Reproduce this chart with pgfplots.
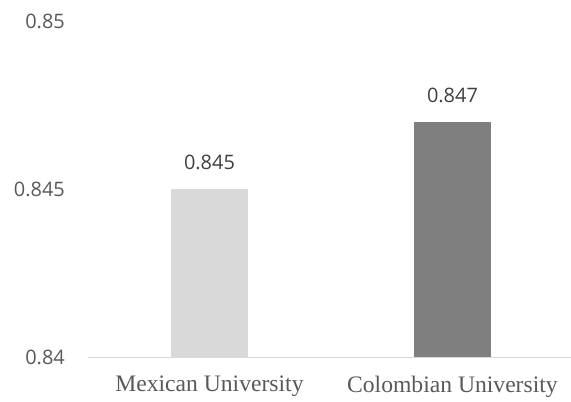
\documentclass[border=0pt]{standalone}
\usepackage{pgfplots}
\pgfplotsset{compat=1.18}
\usepackage{fontspec}
\setmainfont{Liberation Serif}
\newfontfamily\osans{Open Sans}
\definecolor{txt}{HTML}{595959}
\definecolor{lbl}{HTML}{404040}
\definecolor{barA}{HTML}{D9D9D9}
\definecolor{barB}{HTML}{7F7F7F}
\definecolor{axl}{HTML}{D9D9D9}
\begin{document}
\begin{tikzpicture}[x=1bp,y=1bp]
\path[use as bounding box] (0,0) rectangle (571,401);
\begin{axis}[
  at={(88bp,44bp)}, anchor=south west,
  scale only axis, width=483bp, height=336bp,
  xmin=-0.5, xmax=1.488,
  ymin=0.84, ymax=0.85,
  ytick={0.84,0.845,0.85},
  yticklabels={0.84,0.845,0.85},
  xtick={0,1},
  xticklabels={Mexican University,Colombian University},
  axis x line*=bottom, axis y line*=left,
  x axis line style={draw=axl, line width=1pt, -},
  y axis line style={draw=none},
  major tick length=0pt,
  tick style={draw=none},
  yticklabel style={font=\osans\fontsize{20}{24}\selectfont, text=txt, anchor=east, inner sep=0pt, xshift=-23bp},
  xticklabel style={font=\fontsize{23.7}{28}\selectfont, text=txt, anchor=north, inner sep=0pt, yshift=-19bp},
  clip=false,
  ybar, bar width=77bp,
  nodes near coords={\pgfmathprintnumber[fixed,precision=3,assume math mode=true]{\pgfplotspointmeta}},
  every node near coord/.append style={font=\osans\fontsize{20}{24}\selectfont, text=lbl, anchor=south, inner sep=0pt, yshift=19bp},
]
\addplot[fill=barA, draw=none, bar shift=0pt] coordinates {(0,0.845)};
\addplot[fill=barB, draw=none, bar shift=0pt] coordinates {(1,0.847)};
\end{axis}
\end{tikzpicture}
\end{document}
